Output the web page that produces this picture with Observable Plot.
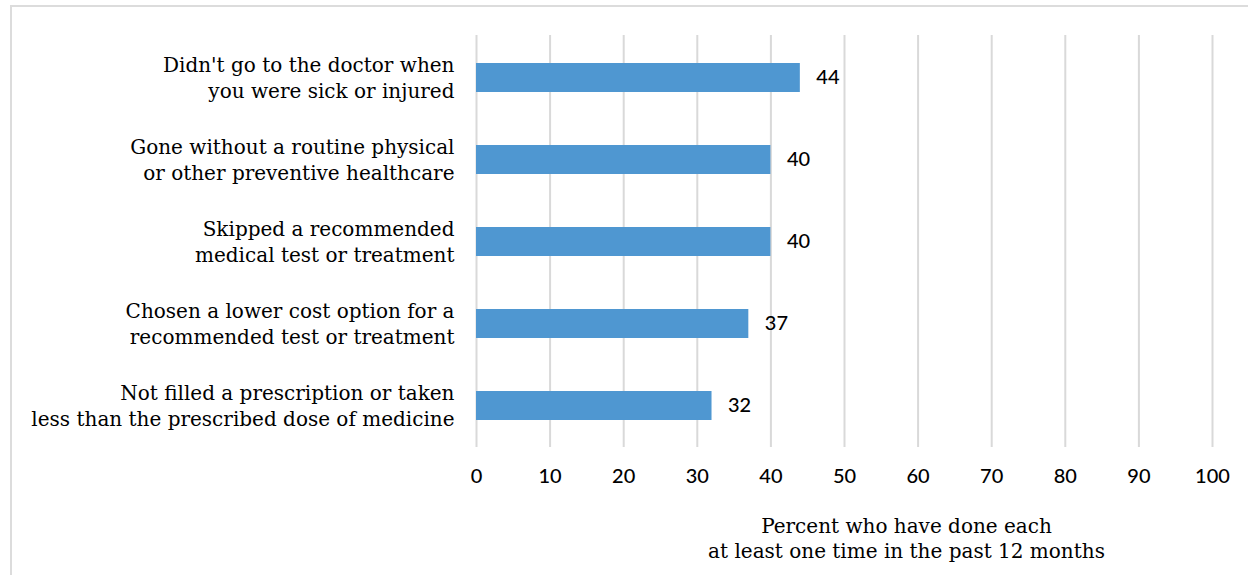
<!DOCTYPE html>
<html>
<head>
<meta charset="utf-8">
<script src="https://cdn.jsdelivr.net/npm/d3@7"></script>
<script src="https://cdn.jsdelivr.net/npm/@observablehq/plot@0.6"></script>
<style>
  html, body { margin: 0; padding: 0; background: #fff; overflow: hidden; }
  #wrap { position: relative; width: 1248px; height: 575px; overflow: hidden; }
  #border { position: absolute; left: 10px; top: 5px; width: 1300px; height: 700px; border: 2px solid #dcdcdc; box-sizing: border-box; }
  #chart { position: absolute; left: 0; top: 0; }
</style>
</head>
<body>
<div id="wrap"><div id="border"></div><div id="chart"></div></div>
<script>
const categories = [
  "Didn't go to the doctor when\nyou were sick or injured",
  "Gone without a routine physical\nor other preventive healthcare",
  "Skipped a recommended\nmedical test or treatment",
  "Chosen a lower cost option for a\nrecommended test or treatment",
  "Not filled a prescription or taken\nless than the prescribed dose of medicine"
];
const values = [44, 40, 40, 37, 32];
const xTicks = [0, 10, 20, 30, 40, 50, 60, 70, 80, 90, 100];
const axisTitle = ["Percent who have done each\nat least one time in the past 12 months"];

const data = categories.map((c, i) => ({category: c, value: values[i]}));

const chart = Plot.plot({
  width: 1248,
  height: 575,
  marginTop: 35,
  marginBottom: 128,
  marginLeft: 476,
  marginRight: 36,
  style: {fontFamily: "Lato, sans-serif", fontSize: "20px", color: "#000", background: "transparent"},
  x: {domain: [0, 100], ticks: xTicks},
  y: {domain: categories, paddingInner: 0.65, paddingOuter: 0.32},
  marks: [
    Plot.gridX(xTicks, {stroke: "#d9d9d9", strokeOpacity: 1, strokeWidth: 2}),
    Plot.axisX(xTicks, {tickSize: 0, tickPadding: 21, fontSize: 20, fontWeight: 500, label: null, fill: "#000"}),
    Plot.axisY({tickSize: 0, tickPadding: 22, fontSize: 20, label: null, lineHeight: 1.3, fill: "#000", dy: -1,
      fontFamily: "DejaVu Serif, serif"}),
    Plot.barX(data, {x: "value", y: "category", fill: "#4f97d1"}),
    Plot.text(data, {x: "value", y: "category", text: d => String(d.value), textAnchor: "start", dx: 16, fontSize: 20, fontWeight: 500, fill: "#000"}),
    Plot.text(axisTitle, {text: d => d, frameAnchor: "bottom", dx: 62, dy: 110, lineHeight: 1.25, fontSize: 20,
      fontFamily: "DejaVu Serif, serif", fill: "#000"})
  ]
});
document.getElementById("chart").appendChild(chart);
</script>
</body>
</html>
